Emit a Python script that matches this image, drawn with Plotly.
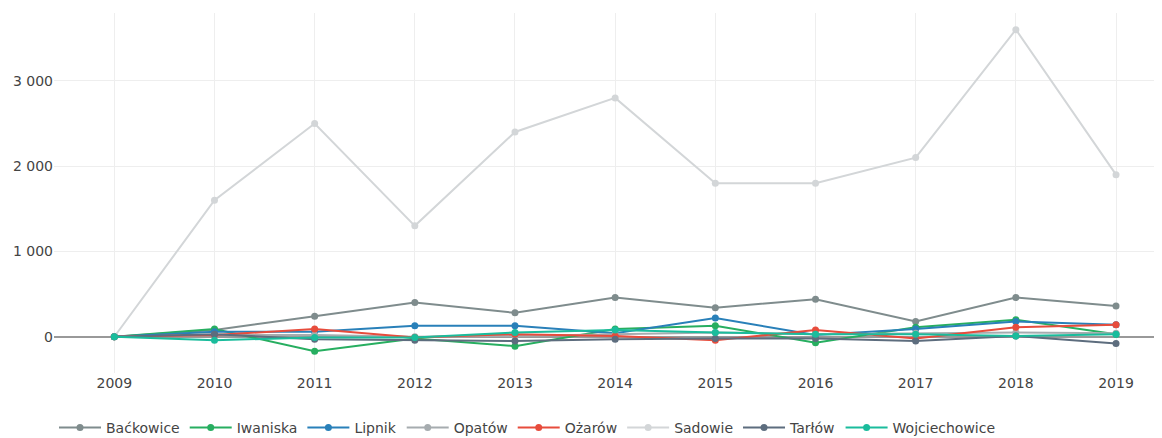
import plotly.graph_objects as go

years = [2009, 2010, 2011, 2012, 2013, 2014, 2015, 2016, 2017, 2018, 2019]

backowice = [0, 80, 240, 400, 280, 460, 340, 440, 180, 460, 360]
iwaniska = [0, 90, -170, -20, -110, 90, 130, -70, 110, 200, 30]
lipnik = [0, 60, 60, 130, 130, 40, 220, 20, 90, 180, 140]
opatow = [0, 20, 20, 0, 10, 30, 50, 30, 40, 50, 40]
ozarow = [0, 20, 90, -10, 30, 10, -40, 80, -20, 110, 140]
sadowie = [0, 1600, 2500, 1300, 2400, 2800, 1800, 1800, 2100, 3600, 1900]
tarlow = [0, 30, -30, -40, -50, -30, -20, -20, -50, 10, -80]
wojciechowice = [0, -40, -10, -10, 50, 80, 50, 30, 30, 10, 30]

series = [
    ("Baćkowice", backowice, "#7f8c8d"),
    ("Iwaniska", iwaniska, "#27ae60"),
    ("Lipnik", lipnik, "#2980b9"),
    ("Opatów", opatow, "#a6acaf"),
    ("Ożarów", ozarow, "#e74c3c"),
    ("Sadowie", sadowie, "#d3d6d8"),
    ("Tarłów", tarlow, "#5d6d7e"),
    ("Wojciechowice", wojciechowice, "#1abc9c"),
]

fig = go.Figure()
for name, vals, color in series:
    fig.add_trace(go.Scatter(
        x=years, y=vals, name=name, mode="lines+markers",
        line=dict(color=color, width=2),
        marker=dict(color=color, size=7),
    ))

fig.update_layout(
    width=1154, height=430,
    margin=dict(l=46, r=0, t=5, b=65, autoexpand=False),
    paper_bgcolor="white", plot_bgcolor="white",
    font=dict(family="DejaVu Sans", size=14, color="#444"),
    separators=". ",
    showlegend=True,
    legend=dict(orientation="h", x=0, y=-0.108, xanchor="left", yanchor="top",
                itemwidth=42, font=dict(size=14, color="#444")),
    xaxis=dict(range=[2008.398, 2019.459], tickmode="array", tickvals=years,
               ticktext=[str(y) for y in years], showgrid=True,
               gridcolor="#eeeeee", zeroline=False, showline=False,
               automargin=False),
    yaxis=dict(range=[-425, 3795], tickvals=[0, 1000, 2000, 3000],
               tickformat=",d", showgrid=True, gridcolor="#eeeeee",
               zeroline=True, zerolinecolor="#999999", zerolinewidth=2,
               showline=False, automargin=False),
)

fig.write_html("out.html")
